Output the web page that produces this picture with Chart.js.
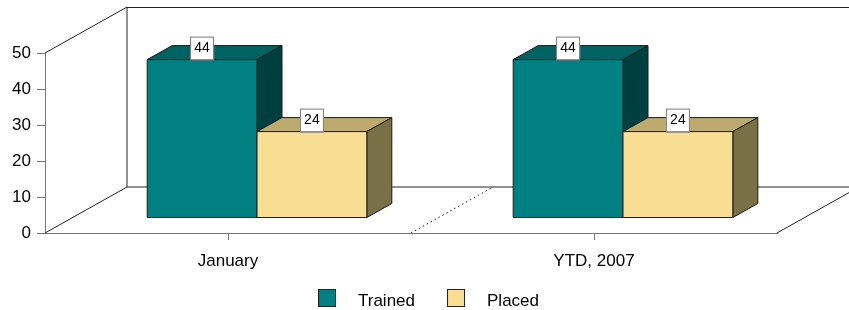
<!DOCTYPE html>
<html>
<head>
<meta charset="utf-8">
<script src="https://cdn.jsdelivr.net/npm/chart.js@4"></script>
<style>
  body { margin: 0; background: #fff; }
  #wrap { width: 849px; height: 310px; }
</style>
</head>
<body>
<div id="wrap"><canvas id="myBarChart" width="849" height="310"></canvas></div>
<script>
// data
let categories = ['January', 'YTD, 2007'];
let trained = [44, 44];
let placed = [24, 24];
let seriesNames = ['Trained', 'Placed'];
let yTicks = [0, 10, 20, 30, 40, 50];

// colours: front, top, side
let faceColors = [
    ['#008080', '#006262', '#003f3f'],
    ['#f8de92', '#bcaa6e', '#7a7048']
];

// depth of the back wall and of the bars
const WALL_DX = 82, WALL_DY = -46;
const BAR_SX = 29, BAR_SY = -15;
const BAR_DX = 25, BAR_DY = -14;

function line(ctx, x1, y1, x2, y2) {
    ctx.beginPath();
    ctx.moveTo(x1, y1);
    ctx.lineTo(x2, y2);
    ctx.stroke();
}
function poly(ctx, pts, fill) {
    ctx.beginPath();
    ctx.moveTo(pts[0][0], pts[0][1]);
    for (let i = 1; i < pts.length; i++) ctx.lineTo(pts[i][0], pts[i][1]);
    ctx.closePath();
    ctx.fillStyle = fill;
    ctx.fill();
    ctx.stroke();
}

let walls = {
    id: 'walls',
    beforeDatasetsDraw(chart) {
        let ctx = chart.ctx;
        let a = chart.chartArea;
        let x = chart.scales.x;
        ctx.save();
        ctx.strokeStyle = '#222';
        ctx.lineWidth = 1;
        let bx = a.left + WALL_DX;
        // left wall
        line(ctx, a.left, a.top, bx, a.top + WALL_DY);
        line(ctx, a.left, a.bottom, bx, a.bottom + WALL_DY);
        line(ctx, bx, a.top + WALL_DY, bx, a.bottom + WALL_DY);
        // back wall top + floor back edge
        line(ctx, bx, a.top + WALL_DY + 0.5, chart.width, a.top + WALL_DY + 0.5);
        line(ctx, bx, a.bottom + WALL_DY, a.right + WALL_DX, a.bottom + WALL_DY);
        // floor right edge
        line(ctx, a.right, a.bottom, a.right + WALL_DX, a.bottom + WALL_DY);
        // dotted divider between categories
        ctx.setLineDash([1.5, 3]);
        for (let i = 1; i < categories.length; i++) {
            let xd = (x.getPixelForValue(i - 1) + x.getPixelForValue(i)) / 2;
            line(ctx, xd, a.bottom, xd + WALL_DX, a.bottom + WALL_DY);
        }
        ctx.restore();
    },
    afterDatasetsDraw(chart) {
        let ctx = chart.ctx;
        ctx.save();
        ctx.strokeStyle = '#1a1a1a';
        ctx.lineWidth = 1;
        for (let j = 0; j < categories.length; j++) {
            for (let i = 0; i < chart.data.datasets.length; i++) {
                let bar = chart.getDatasetMeta(i).data[j];
                let c = faceColors[i];
                let l = bar.x - bar.width / 2 + BAR_SX;
                let r = bar.x + bar.width / 2 + BAR_SX;
                let t = bar.y + BAR_SY;
                let b = bar.base + BAR_SY;
                poly(ctx, [[l, t], [r, t], [r + BAR_DX, t + BAR_DY], [l + BAR_DX, t + BAR_DY]], c[1]);
                poly(ctx, [[r, t], [r + BAR_DX, t + BAR_DY], [r + BAR_DX, b + BAR_DY], [r, b]], c[2]);
                poly(ctx, [[l, t], [r, t], [r, b], [l, b]], c[0]);
                // value label
                let v = chart.data.datasets[i].data[j];
                let cx = (l + r) / 2;
                ctx.fillStyle = '#fff';
                ctx.strokeStyle = '#777';
                ctx.fillRect(cx - 12, t - 23, 24, 23);
                ctx.strokeRect(cx - 11.5, t - 22.5, 23, 23);
                ctx.fillStyle = '#000';
                ctx.font = '14px "Liberation Sans", Arial, sans-serif';
                ctx.textAlign = 'center';
                ctx.textBaseline = 'middle';
                ctx.fillText(String(v), cx, t - 11);
                ctx.strokeStyle = '#1a1a1a';
            }
        }
        ctx.restore();
    },
    afterDraw(chart) {
        // legend
        let ctx = chart.ctx;
        ctx.save();
        ctx.font = '17px "Liberation Sans", Arial, sans-serif';
        ctx.textBaseline = 'middle';
        ctx.textAlign = 'left';
        let widths = seriesNames.map(n => 18 + 22 + ctx.measureText(n).width);
        let total = widths.reduce((s, w) => s + w, 0) + 32 * (seriesNames.length - 1);
        let x = chart.width / 2 - total / 2 + 4;
        for (let i = 0; i < seriesNames.length; i++) {
            ctx.fillStyle = faceColors[i][0];
            ctx.fillRect(x, 289, 18, 18);
            ctx.strokeStyle = '#222';
            ctx.strokeRect(x + 0.5, 289.5, 17, 17);
            ctx.fillStyle = '#000';
            ctx.fillText(seriesNames[i], x + 40, 301);
            x += widths[i] + 32;
        }
        ctx.restore();
    }
};

let chart = document.getElementById('myBarChart').getContext('2d');
let myBarChart = new Chart(chart, {
    type: 'bar',
    data: {
        labels: categories,
        datasets: [{
            label: seriesNames[0],
            data: trained,
            backgroundColor: 'rgba(0,0,0,0)'
        }, {
            label: seriesNames[1],
            data: placed,
            backgroundColor: 'rgba(0,0,0,0)'
        }]
    },
    options: {
        responsive: false,
        animation: false,
        events: [],
        layout: { padding: { left: 0, top: 53, right: 72, bottom: 0 } },
        datasets: { bar: { categoryPercentage: 0.6, barPercentage: 1 } },
        plugins: {
            legend: { display: false },
            tooltip: { enabled: false }
        },
        scales: {
            x: {
                grid: { offset: false, drawOnChartArea: false, tickLength: 7, color: '#777' },
                border: { color: '#777' },
                ticks: {
                    color: '#000',
                    padding: 11,
                    font: { family: '"Liberation Sans", Arial, sans-serif', size: 17 }
                },
                afterFit(scale) { scale.height = 77; }
            },
            y: {
                min: 0,
                max: 50,
                afterBuildTicks(scale) { scale.ticks = yTicks.map(v => ({ value: v })); },
                grid: { drawOnChartArea: false, tickLength: 8, color: '#777' },
                border: { color: '#777' },
                ticks: {
                    color: '#000',
                    padding: 6,
                    font: { family: '"Liberation Sans", Arial, sans-serif', size: 17 }
                },
                afterFit(scale) { scale.width = 45; }
            }
        }
    },
    plugins: [walls]
});
</script>
</body>
</html>
